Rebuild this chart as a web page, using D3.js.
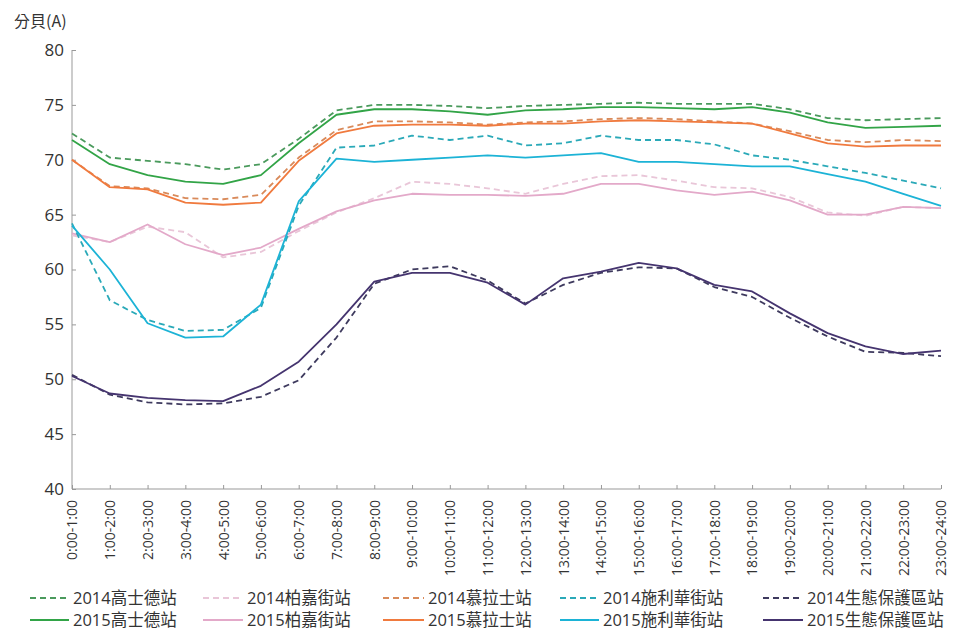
<!DOCTYPE html>
<html>
<head>
<meta charset="utf-8">
<script src="https://cdn.jsdelivr.net/npm/d3@7"></script>
<style>
  html, body { margin: 0; padding: 0; background: #fff; }
  svg { display: block; font-family: "Open Sans", "Noto Sans CJK TC", sans-serif; }
</style>
</head>
<body>
<svg id="chart" width="955" height="630"></svg>
<script>
const categories = ["0:00-1:00","1:00-2:00","2:00-3:00","3:00-4:00","4:00-5:00","5:00-6:00",
  "6:00-7:00","7:00-8:00","8:00-9:00","9:00-10:00","10:00-11:00","11:00-12:00",
  "12:00-13:00","13:00-14:00","14:00-15:00","15:00-16:00","16:00-17:00","17:00-18:00",
  "18:00-19:00","19:00-20:00","20:00-21:00","21:00-22:00","22:00-23:00","23:00-24:00"];

const yTicks = [40, 45, 50, 55, 60, 65, 70, 75, 80];

const kaoShiTe2014 = [72.4,70.2,69.9,69.6,69.1,69.6,71.9,74.5,75.0,75.0,74.9,74.7,74.9,75.0,75.1,75.2,75.1,75.1,75.1,74.6,73.8,73.6,73.7,73.8];
const kaoShiTe2015 = [71.8,69.6,68.6,68.0,67.8,68.6,71.5,74.1,74.6,74.6,74.4,74.1,74.5,74.6,74.8,74.8,74.7,74.6,74.8,74.3,73.4,72.9,73.0,73.1];
const baiJia2014   = [63.1,62.5,63.9,63.4,61.1,61.6,63.5,65.2,66.5,68.0,67.8,67.4,66.9,67.8,68.5,68.6,68.1,67.5,67.4,66.6,65.2,64.9,65.7,65.6];
const baiJia2015   = [63.3,62.5,64.1,62.3,61.3,62.0,63.7,65.3,66.3,66.9,66.8,66.8,66.7,66.9,67.8,67.8,67.2,66.8,67.1,66.3,65.0,65.0,65.7,65.6];
const muLaShi2014  = [70.0,67.6,67.4,66.5,66.4,66.8,70.2,72.7,73.5,73.5,73.4,73.2,73.4,73.5,73.7,73.8,73.7,73.5,73.3,72.6,71.8,71.6,71.8,71.7];
const muLaShi2015  = [70.0,67.5,67.3,66.1,65.9,66.1,69.9,72.4,73.1,73.2,73.2,73.1,73.3,73.3,73.5,73.6,73.5,73.4,73.3,72.4,71.5,71.2,71.3,71.3];
const shiLiHua2014 = [64.2,57.2,55.4,54.4,54.5,56.5,65.8,71.1,71.3,72.2,71.8,72.2,71.3,71.5,72.2,71.8,71.8,71.4,70.4,70.0,69.4,68.8,68.1,67.4];
const shiLiHua2015 = [64.0,60.0,55.1,53.8,53.9,56.8,66.2,70.1,69.8,70.0,70.2,70.4,70.2,70.4,70.6,69.8,69.8,69.6,69.4,69.4,68.7,68.0,66.9,65.8];
const eco2014      = [50.4,48.6,47.9,47.7,47.8,48.4,49.9,53.8,58.7,60.0,60.3,59.0,56.9,58.6,59.7,60.2,60.1,58.4,57.5,55.6,53.9,52.5,52.4,52.1];
const eco2015      = [50.3,48.7,48.3,48.1,48.0,49.4,51.6,55.0,58.9,59.7,59.7,58.8,56.8,59.2,59.8,60.6,60.1,58.6,58.0,56.0,54.2,53.0,52.3,52.6];

const seriesNames = ["2014高士德站","2014柏嘉街站","2014慕拉士站","2014施利華街站","2014生態保護區站",
                     "2015高士德站","2015柏嘉街站","2015慕拉士站","2015施利華街站","2015生態保護區站"];
const seriesValues = [kaoShiTe2014, baiJia2014, muLaShi2014, shiLiHua2014, eco2014,
                      kaoShiTe2015, baiJia2015, muLaShi2015, shiLiHua2015, eco2015];
const seriesColors = ["#4a9a5c","#e9c6d8","#d98a5a","#2aa9b8","#3e3a5e",
                      "#32a447","#e3a9c9","#f07a3e","#1cb3d6","#45346f"];
const seriesDashed = [true,true,true,true,true,false,false,false,false,false];

const svg = d3.select("#chart");
const plotLeft = 72, plotRight = 941, plotTop = 50, plotBottom = 489;

const x = d3.scalePoint().domain(categories).range([plotLeft, plotRight]).padding(0);
const y = d3.scaleLinear().domain([40, 80]).range([plotBottom, plotTop]);

// Y axis
const yAxis = svg.append("g").attr("transform", `translate(${plotLeft},0)`)
  .call(d3.axisLeft(y).tickValues(yTicks).tickSize(-4).tickPadding(8));
yAxis.select(".domain").attr("stroke", "#999").attr("d", `M0,${plotTop}V${plotBottom}`);
yAxis.selectAll(".tick line").attr("stroke", "#999");
yAxis.selectAll(".tick text").attr("font-size", 17).attr("fill", "#333")
  .attr("font-family", "'Open Sans', sans-serif");

// X axis
const xAxis = svg.append("g").attr("transform", `translate(0,${plotBottom})`)
  .call(d3.axisBottom(x).tickSize(-4).tickSizeOuter(0));
xAxis.select(".domain").attr("stroke", "#999").attr("d", `M${plotLeft},0H${plotRight}`);
xAxis.selectAll(".tick line").attr("stroke", "#999");
xAxis.selectAll(".tick text")
  .attr("font-size", 14).attr("fill", "#333")
  .attr("font-family", "'Open Sans', sans-serif")
  .attr("transform", "rotate(-90)")
  .attr("text-anchor", "end")
  .attr("x", -11).attr("y", 0).attr("dy", "0.35em");

// Y label
svg.append("text").attr("x", 14).attr("y", 27)
  .attr("font-size", 16).attr("fill", "#333")
  .attr("font-family", "'Noto Sans CJK TC', sans-serif")
  .text("分貝(A)");

// Lines
const line = d3.line().x((d, i) => x(categories[i])).y(d => y(d));
const order = [1,6,3,8,2,7,0,5,4,9];
order.forEach(k => {
  svg.append("path")
    .attr("d", line(seriesValues[k]))
    .attr("fill", "none")
    .attr("stroke", seriesColors[k])
    .attr("stroke-width", 1.8)
    .attr("stroke-linejoin", "round")
    .attr("stroke-dasharray", seriesDashed[k] ? "6,4" : null);
});

// Legend
const legX = [30, 203, 383, 560, 763];
const legTX = [73, 247, 428, 603, 807];
const legY = [598, 620];
seriesNames.forEach((name, k) => {
  const col = k % 5, row = Math.floor(k / 5);
  const g = svg.append("g");
  g.append("line")
    .attr("x1", legX[col]).attr("x2", legTX[col] - 4)
    .attr("y1", legY[row]).attr("y2", legY[row])
    .attr("stroke", seriesColors[k]).attr("stroke-width", 1.8)
    .attr("stroke-dasharray", seriesDashed[k] ? "6,4" : null);
  g.append("text")
    .attr("x", legTX[col]).attr("y", legY[row]).attr("dy", "0.35em")
    .attr("font-size", 16.5).attr("fill", "#333")
    .attr("font-family", "'Open Sans', 'Noto Sans CJK TC', sans-serif")
    .text(name);
});
</script>
</body>
</html>
